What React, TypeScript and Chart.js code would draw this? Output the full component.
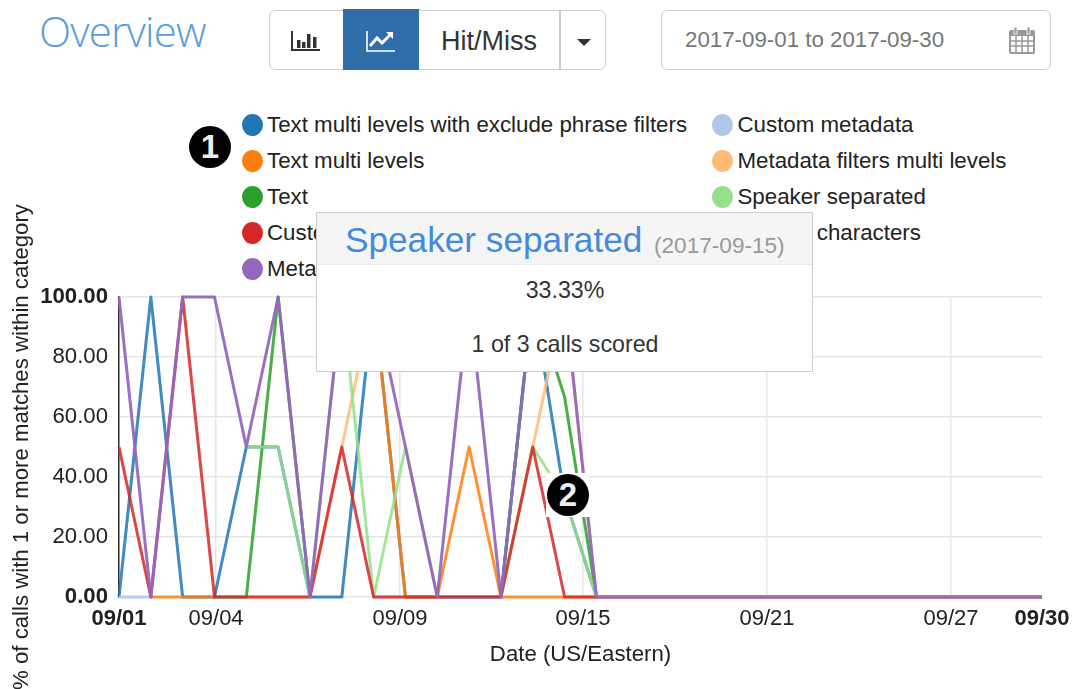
import React, { useEffect, useRef } from "react";
import { Chart, registerables } from "chart.js";

Chart.register(...registerables);

const days = [
  "09/01","09/02","09/03","09/04","09/05","09/06","09/07","09/08","09/09","09/10",
  "09/11","09/12","09/13","09/14","09/15","09/16","09/17","09/18","09/19","09/20",
  "09/21","09/22","09/23","09/24","09/25","09/26","09/27","09/28","09/29","09/30",
];
const n = null;
const textExclude = [0,100,0,0,50,50,0,0,100,0,0,0,0,100,33.33,0,0,0,0,0,0,0,0,0,0,0,0,0,0,0];
const customMetadata = [0,0,n,n,n,n,n,n,0,0,n,n,n,n,n,0,0,0,0,0,0,0,0,0,0,0,0,0,0,0];
const textMulti = [n,0,0,0,n,n,n,n,100,0,0,50,0,0,0,0,0,0,0,0,0,0,0,0,0,0,0,0,0,0];
const metadataFilters = [n,n,n,n,0,0,0,50,100,n,n,n,0,50,100,0,0,0,0,0,0,0,0,0,0,0,0,0,0,0];
const text = [n,n,n,0,0,100,0,n,n,n,n,n,0,100,66.67,0,0,0,0,0,0,0,0,0,0,0,0,0,0,0];
const speakerSeparated = [n,n,n,n,50,50,0,100,0,50,0,n,0,50,33.33,0,0,0,0,0,0,0,0,0,0,0,0,0,0,0];
const customText = [50,0,100,0,0,0,0,50,0,0,0,0,0,50,0,0,0,0,0,0,0,0,0,0,0,0,0,0,0,0];
const specialCharacters = [n,n,n,n,n,n,n,n,n,n,n,n,n,n,n,0,0,0,0,0,0,0,0,0,0,0,0,0,0,0];
const metadata = [100,0,100,100,50,100,0,100,100,50,0,100,0,100,100,0,0,0,0,0,0,0,0,0,0,0,0,0,0,0];

const seriesNames = [
  "Text multi levels with exclude phrase filters", "Custom metadata", "Text multi levels",
  "Metadata filters multi levels", "Text", "Speaker separated", "Custom text",
  "Special characters", "Metadata",
];
const seriesValues = [textExclude, customMetadata, textMulti, metadataFilters, text, speakerSeparated, customText, specialCharacters, metadata];
const seriesColors = ["#1f77b4","#aec7e8","#ff7f0e","#ffbb78","#2ca02c","#98df8a","#d62728","#ff9896","#9467bd"];
const seriesAlpha = ["d9","d9","d9","d9","d9","d9","d9","d9","f0"];

const tickPositions = [0, 3.05, 8.83, 14.58, 20.36, 26.14, 29];
const tickLabels = ["09/01","09/04","09/09","09/15","09/21","09/27","09/30"];

const legendLeft = ["Text multi levels with exclude phrase filters","Text multi levels","Text","Custom text","Metadata"];
const legendRight = ["Custom metadata","Metadata filters multi levels","Speaker separated","Special characters"];

const FONT = "'Liberation Sans', Arial, sans-serif";
const abs = (left: number, top: number, extra: any = {}) => ({ position: "absolute", left, top, ...extra }) as React.CSSProperties;

function LegendItem({ name, x, y }: { name: string; x: number; y: number }) {
  const color = seriesColors[seriesNames.indexOf(name)];
  return (
    <>
      <div style={abs(x - 10.5, y - 11, { width: 21, height: 22, borderRadius: "50%", background: color })} />
      <div style={abs(x + 15, y - 13, { font: `22.3px ${FONT}`, lineHeight: "26px", color: "#222", whiteSpace: "nowrap" })}>{name}</div>
    </>
  );
}

function Badge({ label, x, y }: { label: string; x: number; y: number }) {
  return (
    <div style={abs(x - 22, y - 22, { width: 44, height: 44, background: "#fff", display: "flex", alignItems: "center", justifyContent: "center" })}>
      <div style={{ width: 42, height: 42, borderRadius: "50%", background: "#000", color: "#eee", font: `bold 33px ${FONT}`, lineHeight: "42px", textAlign: "center" }}>{label}</div>
    </div>
  );
}

export default function App() {
  const ref = useRef<HTMLCanvasElement>(null);
  useEffect(() => {
    const chart = new Chart(ref.current!, {
      type: "line",
      data: {
        labels: days.map((_, i) => i),
        datasets: seriesNames.map((name, i) => ({
          label: name,
          data: seriesValues[i].map((v, k) => ({ x: k, y: v })),
          borderColor: seriesColors[i] + seriesAlpha[i],
          backgroundColor: seriesColors[i],
          borderWidth: 3,
          borderJoinStyle: "round",
          pointRadius: 0,
          tension: 0,
          fill: false,
          spanGaps: false,
          clip: false,
          order: seriesNames.length - i,
        })),
      } as any,
      options: {
        responsive: false,
        animation: false,
        parsing: { xAxisKey: "x", yAxisKey: "y" },
        layout: { padding: { top: 297, right: 30, left: 0, bottom: 0 } },
        plugins: { legend: { display: false }, tooltip: { enabled: false } },
        scales: {
          x: {
            type: "linear",
            min: 0,
            max: 29,
            afterBuildTicks: (s: any) => { s.ticks = tickPositions.map((value) => ({ value })); },
            afterFit: (s: any) => { s.height = 92; s.paddingLeft = 0; s.paddingRight = 0; },
            border: { display: false },
            grid: { color: (c: any) => (c.index === tickLabels.length - 1 ? "rgba(0,0,0,0)" : "#e6e6e6"), lineWidth: 1.5, drawTicks: false },
            ticks: {
              autoSkip: false,
              maxRotation: 0,
              minRotation: 0,
              padding: 9,
              color: "#222",
              font: (c: any) => ({ family: FONT, size: 22, weight: c.index === 0 || c.index === tickLabels.length - 1 ? "bold" : "normal" }),
              callback: (_: any, i: number) => tickLabels[i],
            },
            title: { display: true, text: "Date (US/Eastern)", color: "#222", font: { family: FONT, size: 22.2 }, padding: { top: 0, bottom: 21 } },
          },
          y: {
            min: 0,
            max: 100,
            afterFit: (s: any) => { s.width = 119; s.paddingTop = 0; s.paddingBottom = 0; },
            border: { color: "#333", width: 1.5 },
            grid: { color: "#e6e6e6", lineWidth: 1.5, drawTicks: false },
            ticks: {
              stepSize: 20,
              padding: 11,
              color: "#222",
              font: (c: any) => ({ family: FONT, size: 22.2, weight: c.tick && (c.tick.value === 0 || c.tick.value === 100) ? "bold" : "normal" }),
              callback: (v: any) => Number(v).toFixed(2),
            },
            title: { display: true, text: "% of calls with 1 or more matches within category", color: "#222", font: { family: FONT, size: 22.2 }, padding: { top: 9, bottom: 0 } },
          },
        },
      } as any,
    });
    return () => chart.destroy();
  }, []);

  const btnBorder = "1.5px solid #ccc";
  return (
    <div style={abs(0, 0, { width: 1072, height: 689, overflow: "hidden", background: "#fff", fontFamily: FONT })}>
      <div style={abs(39, 4, { font: `300 42px 'Open Sans', sans-serif`, lineHeight: "54px", color: "#5c9bdc", letterSpacing: "-0.8px" })}>Overview</div>

      <div style={abs(269, 10, { width: 337, height: 60, boxSizing: "border-box", border: btnBorder, borderRadius: 6 })} />
      <div style={abs(343, 9, { width: 76, height: 61, background: "#2f6ea8" })} />
      <div style={abs(559, 10, { width: 1.5, height: 60, background: "#ccc" })} />
      <svg style={abs(291, 29)} width={30} height={24} viewBox="0 0 30 24">
        <path d="M1 2V21H29" stroke="#333" strokeWidth={2} fill="none" />
        <path d="M6 11h3.5v8H6zM11 13h3.5v6H11zM16 5h3.5v14H16zM22 8h3.5v11H22z" fill="#333" />
      </svg>
      <svg style={abs(366, 29)} width={30} height={24} viewBox="0 0 30 24">
        <path d="M1 2V22H29" stroke="#fff" strokeWidth={1.6} fill="none" />
        <path d="M4 17L11 9L16 14L24 6" stroke="#fff" strokeWidth={3} fill="none" />
        <path d="M20 3H27V10Z" fill="#fff" />
      </svg>
      <div style={abs(441, 22, { font: `27px ${FONT}`, lineHeight: "38px", color: "#333" })}>Hit/Miss</div>
      <div style={abs(577, 39, { width: 0, height: 0, borderLeft: "7px solid transparent", borderRight: "7px solid transparent", borderTop: "7px solid #333" })} />

      <div style={abs(661, 10, { width: 390, height: 60, boxSizing: "border-box", border: btnBorder, borderRadius: 6 })} />
      <div style={abs(685, 26, { font: `22.3px ${FONT}`, lineHeight: "28px", color: "#777", whiteSpace: "nowrap" })}>2017-09-01 to 2017-09-30</div>
      <svg style={abs(1008, 26)} width={28} height={29} viewBox="0 0 28 29">
        <rect x={1} y={4} width={26} height={24} rx={2} fill="#999" />
        <rect x={6} y={1} width={3} height={7} fill="#999" stroke="#fff" strokeWidth={0.8} />
        <rect x={19} y={1} width={3} height={7} fill="#999" stroke="#fff" strokeWidth={0.8} />
        <path d="M3 10h22v16H3z" fill="#fff" />
        <path d="M3 15h22M3 20h22M8 10v16M14 10v16M20 10v16" stroke="#999" strokeWidth={1.5} />
      </svg>

      {legendLeft.map((name, i) => <LegendItem key={name} name={name} x={252} y={124.5 + i * 36.2} />)}
      {legendRight.map((name, i) => <LegendItem key={name} name={name} x={722.5} y={124.5 + i * 36.2} />)}
      <Badge label="1" x={210} y={147} />

      <canvas ref={ref} width={1072} height={689} style={abs(0, 0, { width: 1072, height: 689 })} />

      <Badge label="2" x={568} y={495} />

      <div style={abs(316, 212, { width: 497, height: 160, boxSizing: "border-box", border: "1.5px solid #ccc", background: "#fff" })}>
        <div style={{ height: 51, background: "#f5f5f5", borderBottom: "1px solid #ececec" }} />
        <div style={abs(28, 6, { font: `35.2px ${FONT}`, lineHeight: "42px", color: "#428bdc", whiteSpace: "nowrap" })}>Speaker separated</div>
        <div style={abs(337, 19, { font: `22.6px ${FONT}`, lineHeight: "28px", color: "#999", whiteSpace: "nowrap" })}>(2017-09-15)</div>
        <div style={abs(0, 63, { width: 496, textAlign: "center", font: `23.2px ${FONT}`, lineHeight: "28px", color: "#333" })}>33.33%</div>
        <div style={abs(0, 117, { width: 496, textAlign: "center", font: `23.2px ${FONT}`, lineHeight: "28px", color: "#333" })}>1 of 3 calls scored</div>
      </div>
    </div>
  );
}
